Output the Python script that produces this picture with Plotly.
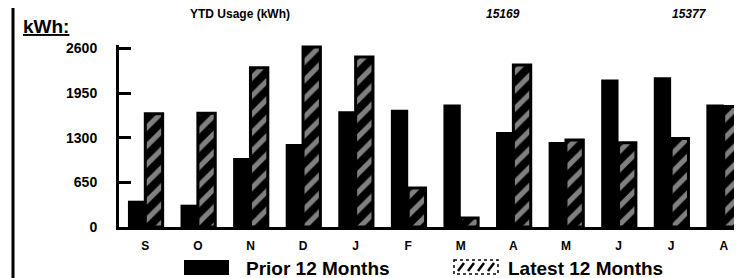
import plotly.graph_objects as go

months = ["S", "O", "N", "D", "J", "F", "M", "A", "M", "J", "J", "A"]
prior_12 = [383, 325, 1006, 1210, 1687, 1706, 1784, 1385, 1239, 2148, 2182, 1784]
latest_12 = [1648, 1658, 2318, 2620, 2474, 569, 131, 2357, 1268, 1225, 1288, 1755]
y_ticks = [0, 650, 1300, 1950, 2600]
y_tick_text = ["0", "650", "1300", "1950", "2600"]
ytd_title = "YTD Usage (kWh)"
ytd_prior = "15169"
ytd_latest = "15377"

W, H = 742, 278
L, R, T, B = 111, 0, 37, 59
PW, PH = W - L - R, H - T - B


def px(x):
    return (x - L) / PW


def py(y):
    return (H - B - y) / PH


xs = list(range(len(months)))
fig = go.Figure()
fig.add_trace(go.Bar(
    x=xs, y=prior_12, name="Prior 12 Months",
    marker=dict(color="black", line=dict(width=0)),
    showlegend=False,
))
fig.add_trace(go.Bar(
    x=xs, y=latest_12, name="Latest 12 Months",
    marker=dict(color="black", line=dict(color="black", width=3),
                pattern=dict(shape="/", fgcolor="white", bgcolor="black",
                             size=13, solidity=0.4)),
    showlegend=False,
))

font_b = "Liberation Sans, Arial, sans-serif"

fig.update_layout(
    width=W, height=H,
    margin=dict(l=L, r=R, t=T, b=B, pad=0),
    paper_bgcolor="white", plot_bgcolor="white",
    barmode="group", bargap=0.34, bargroupgap=0,
    xaxis=dict(
        range=[-0.5, 11.5], tickvals=xs, ticktext=months,
        showgrid=False, zeroline=False, showline=True, linecolor="black",
        linewidth=3, ticks="", ticklabelstandoff=6,
        tickfont=dict(family=font_b, size=12, color="black", weight="bold"),
    ),
    yaxis=dict(
        range=[0, 2650], tickvals=y_ticks, ticktext=y_tick_text,
        showgrid=False, zeroline=False, showline=True, linecolor="black",
        linewidth=3, ticks="inside", ticklen=12, tickwidth=3, tickcolor="black",
        ticklabelstandoff=16,
        tickfont=dict(family=font_b, size=14, color="black", weight="bold"),
    ),
    font=dict(family=font_b, color="black"),
)

shapes = [
    # left border line of the page
    dict(type="line", xref="paper", yref="paper", x0=px(5), x1=px(5),
         y0=py(0), y1=py(H), line=dict(color="black", width=3)),
    # legend swatch: prior
    dict(type="rect", xref="paper", yref="paper", x0=px(176), x1=px(221),
         y0=py(252), y1=py(267), fillcolor="black", line=dict(width=0)),
    # legend swatch: latest (hatched look)
    dict(type="rect", xref="paper", yref="paper", x0=px(446), x1=px(490),
         y0=py(252), y1=py(266), fillcolor="white",
         line=dict(color="black", width=1.5, dash="dot")),
]
for i in range(4):
    x0 = 450 + i * 10
    shapes.append(dict(type="line", xref="paper", yref="paper",
                       x0=px(x0), x1=px(x0 + 6), y0=py(263), y1=py(255),
                       line=dict(color="black", width=2.5)))
fig.update_layout(shapes=shapes)

top_y = py(6)
annotations = [
    dict(text="<b><u>kWh:</u></b>", x=px(13), y=py(19), xref="paper", yref="paper",
         xanchor="left", yanchor="middle", showarrow=False,
         font=dict(family=font_b, size=19, color="black")),
    dict(text="<b>" + ytd_title + "</b>", x=px(232), y=top_y, xref="paper", yref="paper",
         xanchor="center", yanchor="middle", showarrow=False,
         font=dict(family=font_b, size=12, color="black")),
    dict(text="<b><i>" + ytd_prior + "</i></b>", x=px(495), y=top_y, xref="paper", yref="paper",
         xanchor="center", yanchor="middle", showarrow=False,
         font=dict(family=font_b, size=12, color="black")),
    dict(text="<b><i>" + ytd_latest + "</i></b>", x=px(681), y=top_y, xref="paper", yref="paper",
         xanchor="center", yanchor="middle", showarrow=False,
         font=dict(family=font_b, size=12, color="black")),
    dict(text="<b>Prior 12 Months</b>", x=px(236), y=py(260), xref="paper", yref="paper",
         xanchor="left", yanchor="middle", showarrow=False,
         font=dict(family=font_b, size=19, color="black")),
    dict(text="<b>Latest 12 Months</b>", x=px(498), y=py(260), xref="paper", yref="paper",
         xanchor="left", yanchor="middle", showarrow=False,
         font=dict(family=font_b, size=19, color="black")),
]
fig.update_layout(annotations=annotations)

fig.write_html("out.html")
